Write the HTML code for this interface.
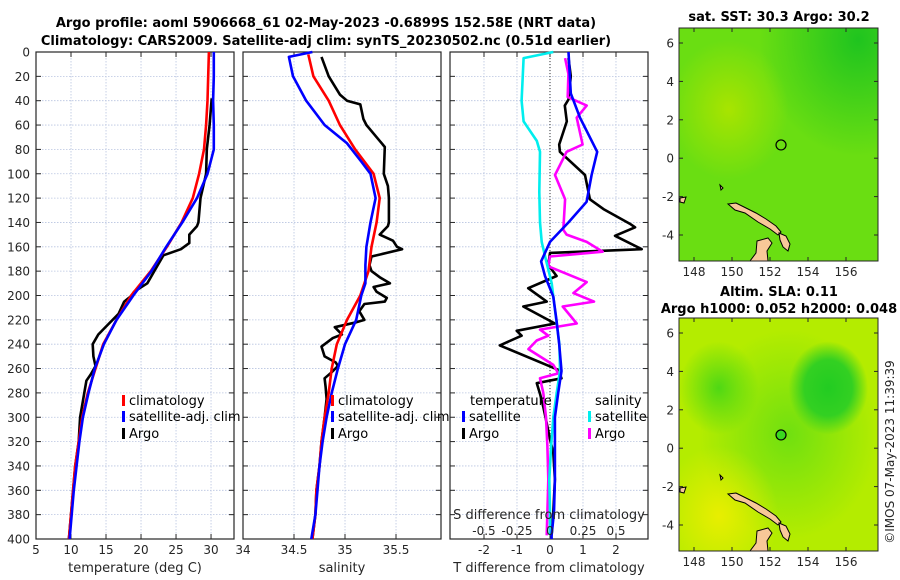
<!DOCTYPE html>
<html><head><meta charset="utf-8">
<style>
html,body{margin:0;padding:0;background:#fff;}
svg{display:block;font-family:"DejaVu Sans","Liberation Sans",sans-serif;}
.tk{font-size:12px;fill:#262626;}
.tt{font-size:13px;font-weight:bold;fill:#000;}
.lg{font-size:13px;fill:#000;}
</style></head>
<body>
<svg id="chart" width="900" height="580" viewBox="0 0 900 580">
<defs>
<radialGradient id="g1" cx="0.9" cy="0.05" r="0.5"><stop offset="0" stop-color="#1fc41f"/><stop offset="1" stop-color="#1fc41f" stop-opacity="0"/></radialGradient>
<radialGradient id="g2" cx="0.25" cy="0.35" r="0.3"><stop offset="0" stop-color="#a8e400"/><stop offset="1" stop-color="#a8e400" stop-opacity="0"/></radialGradient>
<radialGradient id="h1" cx="0.75" cy="0.3" r="0.2"><stop offset="0" stop-color="#22cc22"/><stop offset="0.6" stop-color="#33d022"/><stop offset="1" stop-color="#33d022" stop-opacity="0"/></radialGradient>
<radialGradient id="h2" cx="0.55" cy="0.5" r="0.45"><stop offset="0" stop-color="#70e010"/><stop offset="1" stop-color="#70e010" stop-opacity="0"/></radialGradient>
<radialGradient id="h3" cx="0.2" cy="0.3" r="0.2"><stop offset="0" stop-color="#4fd814"/><stop offset="1" stop-color="#4fd814" stop-opacity="0"/></radialGradient>
<radialGradient id="h4" cx="0.2" cy="0.85" r="0.3"><stop offset="0" stop-color="#e8ee00"/><stop offset="1" stop-color="#e8ee00" stop-opacity="0"/></radialGradient>
</defs>
<g id="titles">
<text class="tt" x="326" y="27" text-anchor="middle">Argo profile: aoml 5906668_61 02-May-2023 -0.6899S 152.58E (NRT data)</text>
<text class="tt" x="326" y="45" text-anchor="middle">Climatology: CARS2009. Satellite-adj clim: synTS_20230502.nc (0.51d earlier)</text>
</g>
<g id="plots"></g>
<g id="maps"></g>
<text x="0" y="0" class="tk" transform="translate(894,452) rotate(-90)" text-anchor="middle">©IMOS 07-May-2023 11:39:39</text>
</svg>
<script>
// ---- Panel 1: temperature ----
const tClimDepth=[0,20,40,60,80,100,120,140,160,180,200,220,240,260,280,300,320,340,360,380,400];
const tClim=[29.7,29.6,29.5,29.3,29.0,28.3,27.4,25.8,23.7,21.4,18.6,16.5,14.6,13.5,12.4,11.6,11.1,10.6,10.3,10.0,9.7];
const tSatDepth=[0,20,40,60,80,100,120,140,160,180,200,220,240,260,280,300,320,340,360,380,400];
const tSat=[30.4,30.4,30.3,30.4,30.4,29.5,28.0,25.9,23.6,21.5,18.9,16.5,14.7,13.4,12.5,11.7,11.2,10.8,10.4,10.1,9.8];
const tArgoDepth=[38,60,80,100,120,140,143,150,157,162,167,180,190,197,200,205,215,225,232,240,250,258,265,270,280,300,320,340,360,380,400];
const tArgo=[30.1,29.8,29.4,29.3,28.5,28.2,28.0,26.9,26.9,25.7,23.2,21.9,20.9,19.0,18.7,17.6,16.8,15.1,13.9,13.1,13.2,13.5,12.8,12.2,11.9,11.3,11.1,10.6,10.3,10.0,9.7];
const tTicks=[5,10,15,20,25,30];
// ---- Panel 2: salinity ----
const sClimDepth=[2,20,40,60,80,100,120,140,160,180,200,220,240,260,280,300,320,340,360,380,400];
const sClim=[34.64,34.69,34.84,34.95,35.10,35.28,35.34,35.31,35.26,35.23,35.15,35.02,34.92,34.87,34.84,34.80,34.77,34.75,34.72,34.71,34.68];
const sSatDepth=[0,4,20,40,60,75,90,100,120,140,160,175,190,200,220,240,260,280,300,320,340,360,380,400];
const sSat=[34.68,34.45,34.49,34.62,34.80,35.02,35.16,35.25,35.30,35.25,35.21,35.20,35.20,35.16,35.11,35.00,34.93,34.87,34.82,34.78,34.75,34.73,34.71,34.67];
const sArgoDepth=[4,20,35,40,43,55,60,70,78,100,110,120,140,143,150,155,160,162,165,168,175,180,185,190,193,197,202,205,207,213,220,222,226,232,235,242,250,255,258,263,268,275,285,300,320,340,360,380,400];
const sArgo=[34.77,34.84,34.95,35.02,35.15,35.18,35.21,35.31,35.39,35.38,35.42,35.43,35.43,35.42,35.34,35.47,35.51,35.56,35.41,35.26,35.24,35.26,35.34,35.44,35.28,35.31,35.41,35.39,35.19,35.14,35.19,35.11,34.90,34.97,34.88,34.77,34.80,34.91,34.93,34.87,34.80,34.81,34.82,34.80,34.77,34.75,34.72,34.71,34.68];
const sTicks=[34,34.5,35,35.5];
// ---- Panel 3: differences ----
const dTSatDepth=[0,34,54,82,101,123,140,156,172,184,201,221,240,262,280,300,324,351,378,397,400];
const dTSat=[0.56,0.63,0.91,1.43,1.26,1.11,0.56,0,-0.27,-0.15,0.10,0.20,0.28,0.35,0.25,0.15,0.15,0.15,0.12,0.05,0.05];
const dTArgoDepth=[5,20,39,44,57,76,82,101,121,129,141,144,151,162,165,175,184,194,205,209,223,229,233,241,261,268,272,281,292,302,318,329,351,378,397];
const dTArgo=[0.56,0.63,0.56,0.45,0.51,0.28,0.30,1.06,1.21,1.62,2.42,2.58,1.97,2.78,0,-0.05,0.20,-0.66,-0.10,-0.81,0.15,-1.01,-0.86,-1.52,0.25,0.35,-0.40,-0.30,-0.20,-0.12,0,0.10,0.15,0.10,0.05];
const dSSatDepth=[0,5,40,57,73,82,115,140,156,171,190,212,240,262,280,300,324,351,378,397];
const dSSat=[0.025,-0.20,-0.215,-0.20,-0.10,-0.076,-0.081,-0.076,-0.063,-0.030,0.013,0.038,0.071,0.076,0.051,0.025,0.008,-0.005,0,0];
const dSArgoDepth=[5,18,37,44,54,76,82,101,121,146,150,156,164,168,176,189,198,205,209,223,228,233,237,244,257,264,268,280,300,324,351,378,397];
const dSArgo=[0.114,0.139,0.134,0.278,0.202,0.247,0.126,0.038,0.114,0.101,0.126,0.278,0.399,0,-0.013,0.278,0.177,0.333,0.096,0.202,-0.076,-0.013,-0.101,-0.164,0.025,0.063,-0.076,-0.051,-0.030,-0.020,-0.013,-0.020,-0.025];
const dTTicks=[-2,-1,0,1,2];
const dSTicks=[-0.5,-0.25,0,0.25,0.5];
const depthTicks=[0,20,40,60,80,100,120,140,160,180,200,220,240,260,280,300,320,340,360,380,400];
// ---- Maps ----
const lonTicks=[148,150,152,154,156];
const latTicks=[6,4,2,0,-2,-4];
const argoLon=[152.58];
const argoLat=[0.69];

const NS='http://www.w3.org/2000/svg';
function mk(tag,attrs,parent,txt){const e=document.createElementNS(NS,tag);for(const k in attrs)e.setAttribute(k,attrs[k]);if(txt!==undefined)e.textContent=txt;parent.appendChild(e);return e;}
const plots=document.getElementById('plots');
const TOP=52,BOT=539;
const yD=d=>TOP+(d/400)*(BOT-TOP);
function lin(d0,d1,r0,r1){return v=>r0+(v-d0)/(d1-d0)*(r1-r0);}

const panels=[
 {name:'temperature-panel',x0:36,x1:234,sc:lin(5,33.28,36,234),ticks:tTicks,label:'temperature (deg C)'},
 {name:'salinity-panel',x0:243,x1:441,sc:lin(34,35.941,243,441),ticks:sTicks,label:'salinity'},
 {name:'difference-panel',x0:450,x1:648,sc:lin(-3.03,2.97,450,648),ticks:dTTicks,label:'T difference from climatology'}
];
panels.forEach((p,pi)=>{
 const g=mk('g',{},plots);
 
 
 p.ticks.forEach(t=>{const x=p.sc(t);if(x>p.x0+1&&x<p.x1-1){const l=mk('line',{x1:x,x2:x,y1:TOP,y2:BOT,stroke:'#b8c4e0','stroke-width':0.8,'stroke-dasharray':'1.5,1.5'},g);}});
 depthTicks.forEach(d=>{const y=yD(d);if(d>0&&d<400){const l=mk('line',{x1:p.x0,x2:p.x1,y1:y,y2:y,stroke:'#b8c4e0','stroke-width':0.8,'stroke-dasharray':'1.5,1.5'},g);}
  mk('line',{x1:p.x0,x2:p.x0+5,y1:y,y2:y,stroke:'#262626','stroke-width':1},g);
  mk('line',{x1:p.x1,x2:p.x1-5,y1:y,y2:y,stroke:'#262626','stroke-width':1},g);
  if(pi===0){const t=mk('text',{x:p.x0-6,y:y+4.5,'text-anchor':'end',class:'tk'},g,String(d));}
 });
 p.ticks.forEach(t=>{const x=p.sc(t);
  mk('line',{x1:x,x2:x,y1:BOT,y2:BOT-5,stroke:'#262626','stroke-width':1},g);
  mk('line',{x1:x,x2:x,y1:TOP,y2:TOP+5,stroke:'#262626','stroke-width':1},g);
  const tx=mk('text',{x:x,y:554,'text-anchor':'middle',class:'tk'},g,String(t));
  
 });
 const xl=mk('text',{x:(p.x0+p.x1)/2,y:572,'text-anchor':'middle',class:'tk',style:'font-size:13px'},g,p.label);
 
 const fr=mk('rect',{x:p.x0,y:TOP,width:p.x1-p.x0,height:BOT-TOP,fill:'none',stroke:'#262626','stroke-width':1.2},g);
 
 p.g=g;
});
function line(g,xs,ds,sc,col,name,w){
 const pts=xs.map((v,i)=>sc(v).toFixed(1)+','+yD(ds[i]).toFixed(1)).join(' ');
 const pl=mk('polyline',{points:pts,fill:'none',stroke:col,'stroke-width':w||2.6,'stroke-linejoin':'round'},g);
 
 
}
const P=panels;
line(P[0].g,tArgo,tArgoDepth,P[0].sc,'#000','argo-temperature-line');
line(P[0].g,tClim,tClimDepth,P[0].sc,'#f00','climatology-temperature-line');
line(P[0].g,tSat,tSatDepth,P[0].sc,'#00f','satellite-temperature-line');
line(P[1].g,sArgo,sArgoDepth,P[1].sc,'#000','argo-salinity-line');
line(P[1].g,sClim,sClimDepth,P[1].sc,'#f00','climatology-salinity-line');
line(P[1].g,sSat,sSatDepth,P[1].sc,'#00f','satellite-salinity-line');
const zl=mk('line',{x1:P[2].sc(0),x2:P[2].sc(0),y1:TOP,y2:BOT,stroke:'#333','stroke-width':1,'stroke-dasharray':'1,2'},P[2].g);

const sS=lin(-0.7576,0.7424,450,648);
line(P[2].g,dTArgo,dTArgoDepth,P[2].sc,'#000','argo-temperature-diff-line');
line(P[2].g,dSArgo,dSArgoDepth,sS,'#f0f','argo-salinity-diff-line');
line(P[2].g,dSSat,dSSatDepth,sS,'#0ee','satellite-salinity-diff-line');
line(P[2].g,dTSat,dTSatDepth,P[2].sc,'#00f','satellite-temperature-diff-line');
const sl=mk('text',{x:549,y:519,'text-anchor':'middle',class:'tk',style:'font-size:13px'},P[2].g,'S difference from climatology');

dSTicks.forEach(t=>{const tx=mk('text',{x:sS(t),y:535,'text-anchor':'middle',class:'tk'},P[2].g,String(t));});
function legend(g,x,y,col,txt,name){
 const lg=mk('g',{},g);
 mk('rect',{x:x,y:y-10,width:3,height:11,fill:col},lg);
 mk('text',{x:x+7,y:y,class:'lg'},lg,txt);
}
legend(P[0].g,122,405,'#f00','climatology','legend-climatology');
legend(P[0].g,122,421,'#00f','satellite-adj. clim','legend-satellite-adj');
legend(P[0].g,122,438,'#000','Argo','legend-argo');
legend(P[1].g,331,405,'#f00','climatology','legend-climatology');
legend(P[1].g,331,421,'#00f','satellite-adj. clim','legend-satellite-adj');
legend(P[1].g,331,438,'#000','Argo','legend-argo');
const lt=mk('text',{x:470,y:405,class:'lg'},P[2].g,'temperature');
const ls=mk('text',{x:595,y:405,class:'lg'},P[2].g,'salinity');
legend(P[2].g,462,421,'#00f','satellite','legend-temp-satellite');
legend(P[2].g,462,438,'#000','Argo','legend-temp-argo');
legend(P[2].g,588,421,'#0ee','satellite','legend-sal-satellite');
legend(P[2].g,588,438,'#f0f','Argo','legend-sal-argo');

// ---- maps ----
const maps=document.getElementById('maps');
const MX0=679,MX1=878;
const lonS=lin(148,156,694,846);
const mapDefs=[
 {name:'sst-map',y0:28,y1:261,lat:lin(6,-4,43,235),base:'#6ade12',over:['g1','g2'],titles:['sat. SST: 30.3 Argo: 30.2'],ty:[21],fill:'none'},
 {name:'sla-map',y0:318,y1:551,lat:lin(6,-4,333,525),base:'#b4ec00',over:['h2','h1','h3','h4'],titles:['Altim. SLA: 0.11','Argo h1000: 0.052 h2000: 0.048'],ty:[296,313],fill:'#3ad820'}
];
mapDefs.forEach(m=>{
 const g=mk('g',{},maps);
 
 
 m.titles.forEach((t,i)=>{const tx=mk('text',{x:779,y:m.ty[i],'text-anchor':'middle',class:'tt'},g,t);});
 mk('rect',{x:MX0,y:m.y0,width:MX1-MX0,height:m.y1-m.y0,fill:m.base},g);
 m.over.forEach(id=>mk('rect',{x:MX0,y:m.y0,width:MX1-MX0,height:m.y1-m.y0,fill:'url(#'+id+')'},g));
 const off=m.y0-28;
 const land=mk('g',{transform:'translate(0,'+off+')',fill:'#f8c898',stroke:'#000','stroke-width':1},g);
 
 mk('path',{d:'M728,204 L736,203 L744,207 L756,213 L766,219 L776,226 L781,232 L778,235 L770,229 L758,222 L745,213 L735,210 Z'},land);
 mk('path',{d:'M779,233 L786,236 L790,244 L788,251 L783,247 L780,240 Z'},land);
 mk('path',{d:'M757,241 L768,238 L772,243 L767,251 L768,261 L750,261 L756,253 Z'},land);
 mk('path',{d:'M720,185 L723,188 L721,190 Z'},land);
 mk('path',{d:'M680,198 L686,197 L684,203 L680,202 Z'},land);
 latTicks.forEach(t=>{const y=m.lat(t);
  mk('line',{x1:MX0,x2:MX0+4,y1:y,y2:y,stroke:'#262626'},g);
  mk('line',{x1:MX1,x2:MX1-4,y1:y,y2:y,stroke:'#262626'},g);
  const tx=mk('text',{x:MX0-5,y:y+4.5,'text-anchor':'end',class:'tk'},g,String(t));
  });
 lonTicks.forEach(t=>{const x=lonS(t);
  mk('line',{x1:x,x2:x,y1:m.y1,y2:m.y1-4,stroke:'#262626'},g);
  mk('line',{x1:x,x2:x,y1:m.y0,y2:m.y0+4,stroke:'#262626'},g);
  const tx=mk('text',{x:x,y:m.y1+15,'text-anchor':'middle',class:'tk'},g,String(t));
  });
 argoLon.forEach((lo,i)=>{const c=mk('circle',{cx:lonS(lo),cy:m.lat(argoLat[i]),r:5,fill:m.fill,stroke:'#000','stroke-width':1.2},g);
  });
 mk('rect',{x:MX0,y:m.y0,width:MX1-MX0,height:m.y1-m.y0,fill:'none',stroke:'#262626','stroke-width':1},g);
});
</script>
</body></html>
